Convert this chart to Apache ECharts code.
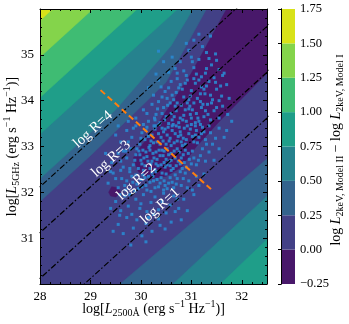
<!DOCTYPE html>
<html>
<head>
<meta charset="utf-8">
<script src="https://cdn.jsdelivr.net/npm/echarts@6/dist/echarts.min.js"></script>
<style>
  html, body { margin: 0; padding: 0; background: #fff; }
  #main { width: 349px; height: 324px; }
</style>
</head>
<body>
<div id="main"></div>
<script>
// contour levels of the colour bar
var levels = [-0.25, 0, 0.25, 0.5, 0.75, 1.0, 1.25, 1.5, 1.75];
var xTicks = [28, 29, 30, 31, 32];
var yTicks = [31, 32, 33, 34, 35];

// radio loudness lines, log R = log L5GHz - log L4400
var logR = [1, 2, 3, 4];
var rOffset = 0.12;
var rLabelX = [30.38, 29.91, 29.41, 29.05];

// contour boundaries (value grows to top-left and to bottom-right)
var upper150 = [[27, 34.75], [30, 37.75]];
var upper125 = [[27, 33.95], [30.5, 37.45]];
var upper100 = [[27, 33.07], [31, 37.07]];
var upper075 = [[27, 32.27], [31.2, 36.47]];
var upper050 = [[27, 31.3], [29.5, 33.8], [30.6, 35.2], [31.25, 36.4]];
var upper025 = [[27, 30.8], [29, 32.8], [30.5, 34.4], [31.5, 36.4]];
var lower025 = [[29.0, 29.45], [33, 33.2]];
var lower050 = [[30.15, 29.5], [33, 32.43]];
var lower075 = [[31.1, 29.5], [33, 31.5]];
// region below zero (darkest band)
var negRegion = [[31.85, 36.3], [33, 36.3], [33, 34.9], [32.5, 34.6], [31.6, 33.6], [31.1, 33.0],
  [30.8, 32.55], [30.5, 32.35], [30.2, 32.3], [29.95, 32.45], [29.85, 32.75], [30.0, 33.0],
  [30.25, 33.35], [30.55, 33.85], [31.0, 34.6]];
var negBlob = [[29.36, 32.0], [29.42, 32.12], [29.56, 32.1], [29.6, 31.98], [29.5, 31.9], [29.4, 31.92]];

// perpendicular cut
var cutLine = [[29.2, 34.23], [31.39, 32.07]];

// quasars: log L2500, log L5GHz
var quasars = [
  [31.05,35.32],[31.22,35.18],[31.38,35.41],[30.62,34.95],[31.48,35.02],[30.95,35.1],[31.3,35.05],[30.35,35.08],
  [30.55,34.62],[30.78,34.85],[30.9,34.55],[31.05,34.72],[31.15,34.9],[31.28,34.6],[31.4,34.78],[31.55,34.68],
  [30.68,34.7],[31.0,34.95],[31.2,34.52],[30.45,34.85],[31.35,34.92],[30.85,34.65],[31.1,34.58],[31.62,34.55],
  [30.3,34.58],[31.45,34.5],
  [30.25,34.12],[30.4,34.3],[30.52,34.05],[30.6,34.42],[30.7,34.18],[30.78,34.35],[30.85,34.08],[30.92,34.45],
  [31.0,34.22],[31.08,34.38],[31.12,34.05],[31.2,34.3],[31.27,34.15],[31.35,34.42],[31.42,34.02],[31.5,34.25],
  [31.6,34.1],[31.7,34.35],[30.35,34.45],[30.48,34.2],[30.65,34.02],[30.82,34.25],[30.98,34.1],[31.05,34.48],
  [31.18,34.15],[31.3,34.32],[31.48,34.4],[30.15,34.28],[30.72,34.48],[31.55,34.0],
  [29.9,33.62],[30.05,33.8],[30.15,33.55],[30.22,33.92],[30.3,33.7],[30.38,33.52],[30.45,33.85],[30.5,33.65],
  [30.58,33.95],[30.62,33.58],[30.7,33.78],[30.75,33.52],[30.8,33.9],[30.85,33.68],[30.9,33.55],[30.95,33.82],
  [31.0,33.62],[31.05,33.95],[31.1,33.72],[31.15,33.55],[31.2,33.85],[31.25,33.65],[31.32,33.92],[31.38,33.58],
  [31.45,33.78],[31.55,33.62],[31.62,33.88],[31.72,33.7],[30.28,33.58],[30.42,33.72],[30.55,33.5],[30.68,33.88],
  [30.78,33.62],[30.88,33.8],[30.98,33.7],[31.08,33.52],[31.18,33.98],[31.28,33.78],[30.35,33.98],[30.12,33.72],
  [29.75,33.55],[30.6,33.72],[30.92,33.95],[31.02,33.8],[31.4,33.95],
  [29.6,33.1],[29.72,33.35],[29.82,33.2],[29.9,33.45],[29.98,33.05],[30.02,33.3],[30.08,33.15],[30.12,33.42],
  [30.18,33.02],[30.22,33.25],[30.28,33.38],[30.32,33.1],[30.36,33.48],[30.4,33.2],[30.45,33.32],[30.5,33.05],
  [30.54,33.42],[30.58,33.18],[30.62,33.35],[30.66,33.08],[30.7,33.45],[30.74,33.22],[30.78,33.32],[30.82,33.02],
  [30.86,33.4],[30.9,33.15],[30.95,33.28],[31.0,33.48],[31.05,33.1],[31.1,33.35],[31.15,33.2],[31.22,33.42],
  [31.3,33.05],[31.38,33.3],[31.48,33.18],[31.55,33.4],[30.05,33.48],[30.15,33.22],[30.25,33.08],[30.35,33.28],
  [30.44,33.12],[30.52,33.25],[30.6,33.02],[30.68,33.28],[30.76,33.42],[30.84,33.18],[30.92,33.45],[31.02,33.22],
  [31.12,33.08],[31.2,33.28],[29.85,33.4],[30.0,33.18],[30.3,33.45],[30.48,33.38],[30.64,33.48],[30.8,33.1],
  [31.08,33.45],[31.28,33.15],[29.5,33.25],[31.65,33.2],
  [29.42,32.65],[29.55,32.85],[29.65,32.55],[29.72,32.75],[29.8,32.95],[29.85,32.6],[29.9,32.82],[29.95,32.52],
  [30.0,32.7],[30.04,32.92],[30.08,32.58],[30.12,32.78],[30.16,32.98],[30.2,32.62],[30.24,32.85],[30.28,32.5],
  [30.32,32.72],[30.36,32.92],[30.4,32.6],[30.44,32.8],[30.48,32.55],[30.52,32.95],[30.56,32.68],[30.6,32.85],
  [30.64,32.52],[30.68,32.75],[30.72,32.95],[30.78,32.62],[30.84,32.82],[30.9,32.55],[30.96,32.72],[31.02,32.9],
  [31.1,32.6],[31.18,32.8],[31.28,32.68],[29.6,32.68],[29.78,32.52],[29.92,32.95],[30.02,32.62],[30.1,32.88],
  [30.18,32.52],[30.26,32.75],[30.34,32.58],[30.42,32.92],[30.5,32.72],[30.58,32.58],[30.66,32.9],[30.74,32.68],
  [30.82,32.52],[30.88,32.92],[31.05,32.75],[31.22,32.95],[29.98,32.82],[30.3,32.88],[30.55,32.82],[30.8,32.75],
  [29.7,32.9],[30.14,32.68],[30.46,32.65],[31.35,32.88],
  [29.35,32.2],[29.45,32.42],[29.55,32.1],[29.62,32.3],[29.7,32.05],[29.78,32.45],[29.84,32.22],[29.9,32.38],
  [29.95,32.08],[30.0,32.28],[30.05,32.48],[30.1,32.15],[30.15,32.35],[30.2,32.02],[30.25,32.25],[30.3,32.45],
  [30.35,32.12],[30.4,32.32],[30.45,32.05],[30.5,32.4],[30.55,32.2],[30.6,32.48],[30.65,32.1],[30.72,32.3],
  [30.8,32.15],[30.88,32.42],[30.95,32.25],[31.02,32.05],[29.6,32.48],[29.88,32.02],[30.08,32.32],[30.22,32.42],
  [30.38,32.2],[30.52,32.08],[30.68,32.38],[30.78,32.45],[29.72,32.25],[30.02,32.12],[30.28,32.1],[30.46,32.25],
  [30.62,32.22],[31.1,32.35],[29.5,32.3],[30.92,32.1],[30.18,32.22],
  [29.5,31.8],[29.6,31.6],[29.68,31.92],[29.75,31.7],[29.82,31.52],[29.9,31.85],[29.98,31.65],[30.05,31.95],
  [30.12,31.58],[30.2,31.78],[30.28,31.9],[30.35,31.62],[30.42,31.8],[30.5,31.55],[30.58,31.72],[30.65,31.92],
  [30.75,31.65],[30.85,31.85],[29.78,31.95],[30.0,31.75],[30.25,31.52],[30.45,31.98],[30.68,31.58],[29.58,31.95],
  [30.92,31.6],
  [29.55,31.3],[29.65,31.1],[29.72,31.45],[29.85,31.22],[29.92,31.4],[30.02,31.05],[30.1,31.32],[30.22,31.15],
  [30.35,31.42],[30.48,31.2],[29.45,31.15],[30.6,31.35],
  [29.8,30.85],[30.1,30.92],
  [30.27,33.62],[30.33,33.82],[30.47,33.58],[30.53,33.9],[30.66,33.65],[30.72,33.95],[30.83,33.58],[30.97,33.88],
  [31.13,33.62],[31.23,33.92],[31.33,33.7],[31.5,33.85],
  [30.1,33.35],[30.2,33.12],[30.26,33.45],[30.38,33.05],[30.42,33.4],[30.56,33.12],[30.62,33.45],[30.72,33.12],
  [30.79,33.25],[30.88,33.05],[30.98,33.38],[31.08,33.25],[31.18,33.48],[31.25,33.32],[31.35,33.45],[31.42,33.05],
  [29.88,32.7],[29.96,32.9],[30.06,32.75],[30.18,32.92],[30.22,32.68],[30.3,32.62],[30.38,32.8],[30.46,32.9],
  [30.52,32.6],[30.6,32.7],[30.7,32.58],[30.76,32.88],[30.86,32.65],[30.94,32.85],[31.0,32.62],[31.14,32.7],
  [29.82,32.35],[29.92,32.18],[30.04,32.38],[30.12,32.05],[30.24,32.35],[30.32,32.28],[30.42,32.42],[30.48,32.15],
  [30.58,32.32],[30.7,32.18],[30.84,32.3],
  [30.55,34.28],[30.62,34.12],[30.75,34.28],[30.88,34.38],[30.95,34.02],[31.15,34.45],[31.25,34.25],[31.38,34.12],
  [31.58,34.32],[30.42,34.08],[30.72,34.6],[31.02,34.85],[31.3,34.7],[31.5,34.88],[30.9,35.25],[31.15,35.45],
  [29.65,32.9],[29.75,33.1],[29.55,33.45],[29.4,32.45],[29.3,32.85],[29.68,32.15],[29.58,31.5],[29.4,31.65],
  [30.15,31.45],[30.38,31.28],[30.72,31.85],[30.8,31.4],[31.05,31.95],[31.15,32.15],[31.25,32.4],[31.45,32.7],
  [31.55,32.95],[31.7,33.35],[31.75,34.05],[31.65,34.6],[31.8,33.55]
];

// viridis at the band centres
var bandColors = ['#48186a', '#424086', '#33638d', '#26828e', '#1f9e89', '#3fbc73', '#84d44b', '#d8e219'];

var serif = '"Liberation Serif", "DejaVu Serif", serif';

// polygons painted from the bottom band up
function above(line) {
  var a = line[0], b = line[line.length - 1];
  return line.concat([[b[0], 60], [a[0] - 10, 60], [a[0] - 10, a[1]]]);
}
function below(line) {
  var a = line[0], b = line[line.length - 1];
  return line.concat([[b[0] + 10, b[1]], [b[0] + 10, 0], [a[0], 0]]);
}
var frame = [[20, 20], [40, 20], [40, 50], [20, 50]];
var bandPolys = [
  { poly: frame, band: 1 },
  { poly: negRegion, band: 0 },
  { poly: negBlob, band: 0 },
  { poly: above(upper025), band: 2 },
  { poly: below(lower025), band: 2 },
  { poly: above(upper050), band: 3 },
  { poly: below(lower050), band: 3 },
  { poly: above(upper075), band: 4 },
  { poly: below(lower075), band: 4 },
  { poly: above(upper100), band: 5 },
  { poly: above(upper125), band: 6 },
  { poly: above(upper150), band: 7 }
];

var rLines = logR.map(function (r) {
  return {
    type: 'line', data: [[27, 27 + r + rOffset], [34, 34 + r + rOffset]],
    symbol: 'none', silent: true, z: 4, clip: true,
    lineStyle: { color: '#000', width: 1.2, type: [6, 2.2, 1.5, 2.2] }
  };
});

var cbBands = levels.slice(0, -1).map(function (lo, i) { return [0.5, (lo + levels[i + 1]) / 2, i]; });

function tickAxis(extra) {
  var base = {
    axisLine: { show: true, lineStyle: { color: '#000', width: 1 } },
    axisTick: { show: true, inside: true, length: 4, lineStyle: { color: '#000' } },
    minorTick: { show: true, splitNumber: 5, length: 2, lineStyle: { color: '#000' } },
    splitLine: { show: false },
    axisLabel: { show: false },
    z: 10
  };
  return Object.assign(base, extra);
}

var richText = {
  n: { fontFamily: serif, fontSize: 14, color: '#000', lineHeight: 19 },
  i: { fontFamily: serif, fontSize: 14, fontStyle: 'italic', color: '#000', lineHeight: 19 },
  s: { fontFamily: serif, fontSize: 10, color: '#000', lineHeight: 11, verticalAlign: 'bottom' },
  p: { fontFamily: serif, fontSize: 10, color: '#000', lineHeight: 11, verticalAlign: 'top' }
};

var myChart = echarts.init(document.getElementById('main'), null, { renderer: 'canvas' });

var option = {
  animation: false,
  grid: [
    { left: 40, top: 9, width: 227, height: 275 },
    { left: 281, top: 9, width: 14, height: 275 }
  ],
  graphic: [
    {
      type: 'text', x: 153.5, y: 309, z: 20,
      style: { text: '{n|log[}{i|L}{s|2500Å}{n| (erg s}{p|−1}{n| Hz}{p|−1}{n|)]}', rich: richText, align: 'center', verticalAlign: 'middle' }
    },
    {
      type: 'text', x: 12, y: 146.5, rotation: Math.PI / 2, z: 20,
      style: { text: '{n|log[}{i|L}{s|5GHz}{n| (erg s}{p|−1}{n| Hz}{p|−1}{n|)]}', rich: richText, align: 'center', verticalAlign: 'middle' }
    },
    {
      type: 'text', x: 336, y: 150, rotation: Math.PI / 2, z: 20,
      style: { text: '{n|log }{i|L}{s|2keV, Model II}{n| − log }{i|L}{s|2keV, Model I}', rich: richText, align: 'center', verticalAlign: 'middle' }
    }
  ],
  xAxis: [
    tickAxis({
      type: 'value', gridIndex: 0, min: 28, max: 32.5, interval: 1, position: 'bottom',
      axisLabel: {
        show: true, color: '#000', fontFamily: serif, fontSize: 13, margin: 6,
        formatter: function (v) { return xTicks.indexOf(v) >= 0 ? String(v) : ''; }
      }
    }),
    tickAxis({ type: 'value', gridIndex: 0, min: 28, max: 32.5, interval: 1, position: 'top' }),
    { type: 'value', gridIndex: 1, min: 0, max: 1, show: false }
  ],
  yAxis: [
    tickAxis({
      type: 'value', gridIndex: 0, min: 30, max: 36, interval: 1, position: 'left',
      axisLabel: {
        show: true, color: '#000', fontFamily: serif, fontSize: 13, margin: 6,
        formatter: function (v) { return yTicks.indexOf(v) >= 0 ? String(v) : ''; }
      }
    }),
    tickAxis({ type: 'value', gridIndex: 0, min: 30, max: 36, interval: 1, position: 'right' }),
    {
      type: 'value', gridIndex: 1, min: -0.25, max: 1.75, interval: 0.25, position: 'right',
      axisLine: { show: true, lineStyle: { color: '#000', width: 1 } },
      axisTick: { show: true, inside: true, length: 3, lineStyle: { color: '#000' } },
      splitLine: { show: false },
      axisLabel: {
        color: '#000', fontFamily: serif, fontSize: 12.5, margin: 5,
        formatter: function (v) { return v.toFixed(2).replace('-', '−'); }
      },
      z: 10
    },
    {
      type: 'value', gridIndex: 1, min: -0.25, max: 1.75, position: 'left',
      axisLine: { show: true, lineStyle: { color: '#000', width: 1 } },
      axisTick: { show: false }, axisLabel: { show: false }, splitLine: { show: false }, z: 10
    }
  ],
  series: [
    {
      type: 'custom', xAxisIndex: 0, yAxisIndex: 0, clip: true, silent: true, z: 1,
      data: bandPolys.map(function (p, i) { return [30, 33, i]; }),
      renderItem: function (params, api) {
        var p = bandPolys[params.dataIndex];
        return {
          type: 'polygon',
          shape: { points: p.poly.map(function (pt) { return api.coord(pt); }) },
          style: { fill: bandColors[p.band], stroke: bandColors[p.band], lineWidth: 0.5 }
        };
      }
    },
    {
      type: 'scatter', xAxisIndex: 0, yAxisIndex: 0, data: quasars, z: 3,
      symbol: 'rect', symbolSize: 3, silent: true,
      itemStyle: { color: '#2a88d0', opacity: 0.9 }
    }
  ].concat(rLines).concat([
    {
      type: 'custom', xAxisIndex: 0, yAxisIndex: 0, silent: true, z: 5,
      data: logR.map(function (r, i) { return [rLabelX[i], rLabelX[i] + r + rOffset + 0.2, i]; }),
      renderItem: function (params, api) {
        var pos = api.coord([api.value(0), api.value(1)]);
        var a = api.coord([28, 30]), b = api.coord([29, 31]);
        var ang = Math.atan2(a[1] - b[1], b[0] - a[0]);
        return {
          type: 'text', x: pos[0], y: pos[1], rotation: ang,
          style: {
            text: 'log R=' + logR[params.dataIndex], fill: '#fff',
            font: '14.5px ' + serif, align: 'center', verticalAlign: 'middle'
          }
        };
      }
    },
    {
      type: 'line', xAxisIndex: 0, yAxisIndex: 0, data: cutLine, symbol: 'none', z: 6, silent: true,
      lineStyle: { color: '#ff7f0e', width: 2, type: [6, 3.5] }
    },
    {
      type: 'custom', xAxisIndex: 2, yAxisIndex: 2, silent: true, z: 1,
      data: cbBands,
      renderItem: function (params, api) {
        var i = api.value(2);
        var p0 = api.coord([0, levels[i]]), p1 = api.coord([1, levels[i + 1]]);
        return {
          type: 'rect',
          shape: { x: p0[0], y: p1[1], width: p1[0] - p0[0], height: p0[1] - p1[1] },
          style: { fill: bandColors[i] }
        };
      }
    }
  ])
};

myChart.setOption(option);
</script>
</body>
</html>
